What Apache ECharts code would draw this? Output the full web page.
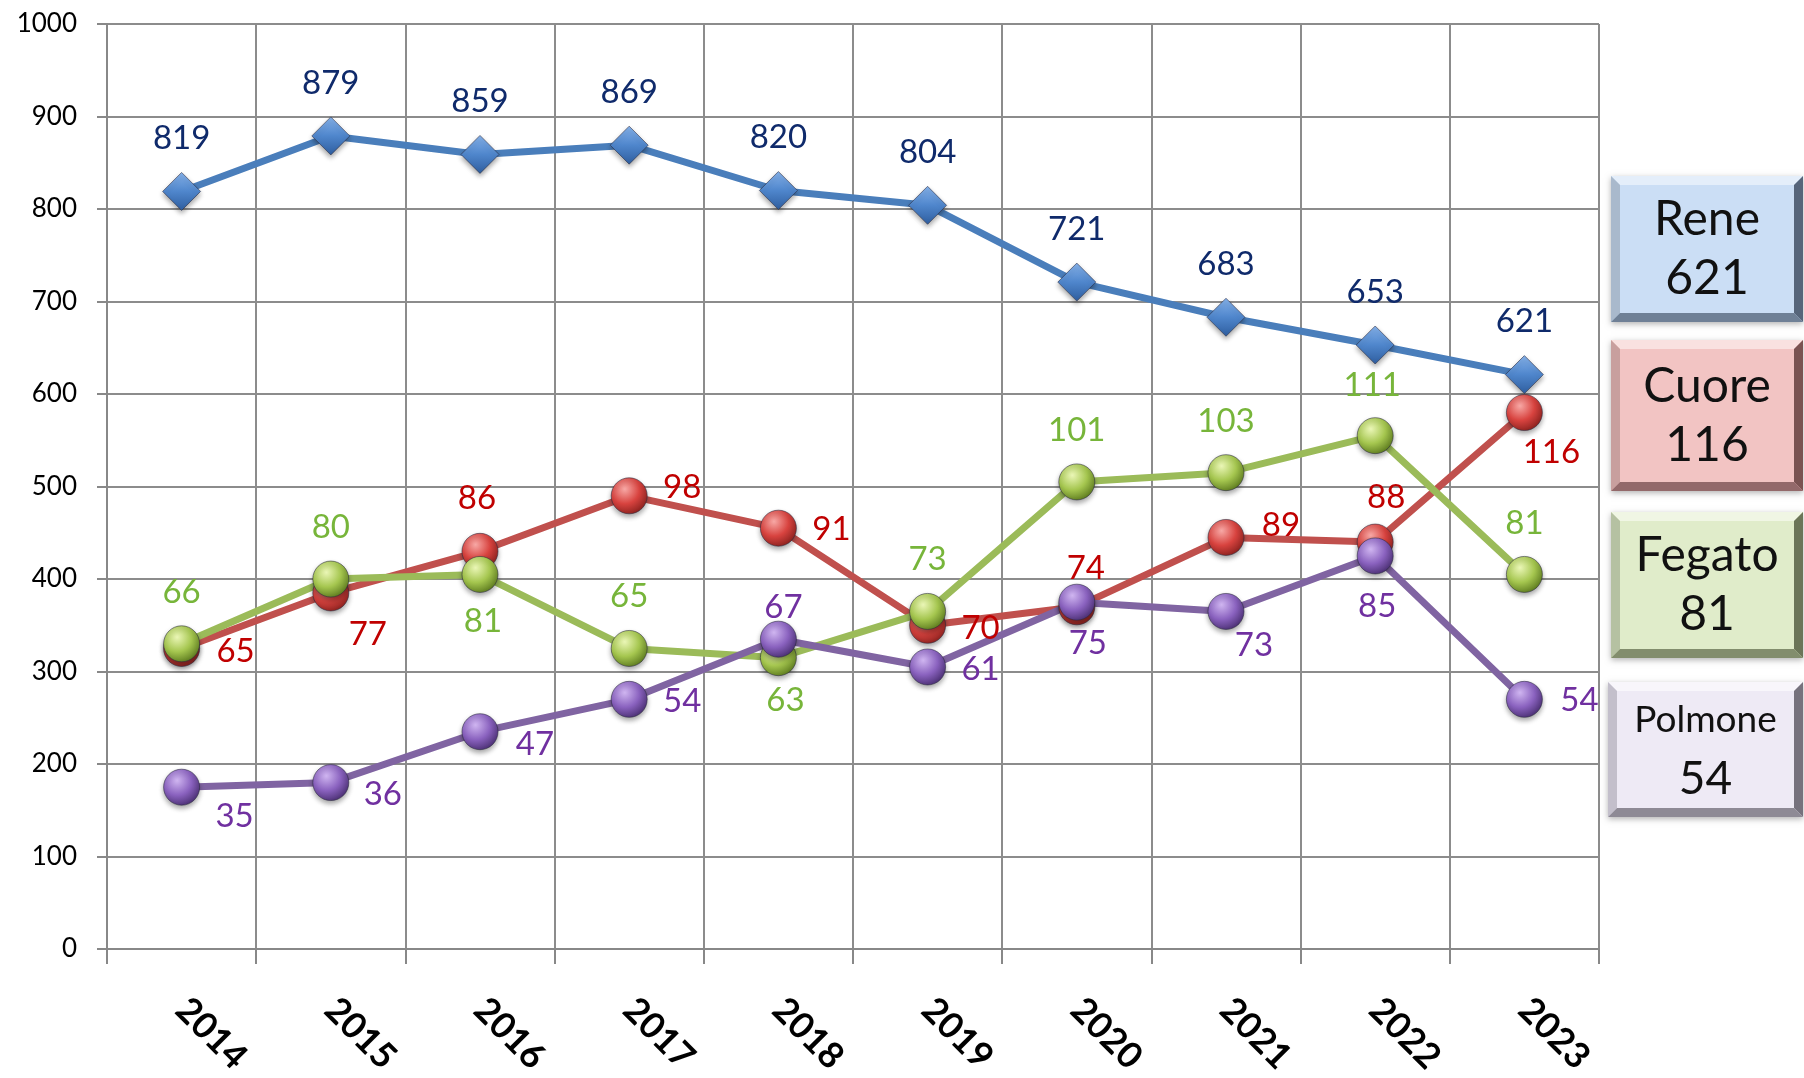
<html>

<head>
    <meta charset="utf-8" />
    <style>
        html, body { margin: 0; padding: 0; background: #fff; }
        .chart { width: 1804px; height: 1078px; }
    </style>
    <script src="https://cdn.jsdelivr.net/npm/echarts@6/dist/echarts.min.js"></script>
</head>

<body>
    <div id='main' class='chart'></div>
    <script type="text/javascript">
        var years = ['2014', '2015', '2016', '2017', '2018', '2019', '2020', '2021', '2022', '2023'];
        var rene = [819, 879, 859, 869, 820, 804, 721, 683, 653, 621];
        var cuore = [65, 77, 86, 98, 91, 70, 74, 89, 88, 116];
        var fegato = [66, 80, 81, 65, 63, 73, 101, 103, 111, 81];
        var polmone = [35, 36, 47, 54, 67, 61, 75, 73, 85, 54];
        var yTicks = [0, 100, 200, 300, 400, 500, 600, 700, 800, 900, 1000];
        /* the three smaller series are drawn 5x taller, labels keep the real value */
        var scale = 5;

        /* label offsets from point centre (layout only) */
        var reneOff = [[0, -53], [0, -53], [0, -53], [0, -53], [0, -53], [0, -53], [0, -53], [0, -53], [0, -53], [0, -53]];
        var cuoreOff = [[54, 3], [37, 41], [-3, -53], [53, -8], [53, 1], [53, 3], [9, -38], [55, -12], [11, -45], [27, 40]];
        var fegatoOff = [[0, -51], [0, -52], [3, 47], [0, -52], [7, 43], [0, -52], [0, -52], [0, -51], [-3, -50], [0, -51]];
        var polmoneOff = [[53, 29], [52, 12], [55, 13], [53, 2], [5, -32], [53, 2], [11, 41], [28, 34], [2, 50], [55, 1]];

        var font = 'Lato, "Liberation Sans", sans-serif';
        var chart = echarts.init(document.getElementById('main'), null, { renderer: 'canvas' });

        function sphere(light, base, dark) {
            return {
                type: 'radial', x: 0.38, y: 0.32, r: 0.72,
                colorStops: [
                    { offset: 0, color: light },
                    { offset: 0.55, color: base },
                    { offset: 1, color: dark }
                ]
            };
        }

        function makeSeries(name, values, mult, off, lineColor, marker, symbol, size, labelColor) {
            return {
                name: name,
                type: 'line',
                data: values.map(function (v, i) {
                    return { value: v * mult, label: { offset: off[i] } };
                }),
                symbol: symbol,
                symbolSize: size,
                showAllSymbol: true,
                lineStyle: { color: lineColor, width: 7 },
                itemStyle: {
                    color: marker,
                    borderColor: 'rgba(40,40,60,0.55)',
                    borderWidth: 1,
                    shadowBlur: 5,
                    shadowColor: 'rgba(0,0,0,0.35)',
                    shadowOffsetY: 3
                },
                label: {
                    show: true,
                    position: 'inside',
                    color: labelColor,
                    fontFamily: font,
                    fontSize: 33,
                    formatter: function (p) { return String(values[p.dataIndex]); }
                },
                emphasis: { disabled: true },
                z: 3
            };
        }

        var series = [
            makeSeries('Rene', rene, 1, reneOff, '#4a7ebb',
                { type: 'linear', x: 0, y: 0, x2: 0, y2: 1, colorStops: [{ offset: 0, color: '#86b2ea' }, { offset: 0.5, color: '#4f86cc' }, { offset: 1, color: '#2e5d9e' }] },
                'diamond', [38, 38], '#0f2a6b'),
            makeSeries('Cuore', cuore, scale, cuoreOff, '#c0504d', sphere('#f7a8a5', '#d8433f', '#8a211e'), 'circle', 36, '#c00000'),
            makeSeries('Fegato', fegato, scale, fegatoOff, '#9bbb59', sphere('#eaf6b6', '#a5c64f', '#5c7a1e'), 'circle', 36, '#77b53a'),
            makeSeries('Polmone', polmone, scale, polmoneOff, '#8064a2', sphere('#cfb5f0', '#8a62bf', '#4a2f72'), 'circle', 36, '#7030a0')
        ];

        /* bevelled boxes on the right, built from names and last values */
        var boxes = [
            { name: 'Rene', data: rene, x: 1611, y: 176, h: 146, fs: 48, fs2: 48, c: ['#cbdef5', '#e4eefa', '#a9b9cc', '#56657a', '#6f8096'] },
            { name: 'Cuore', data: cuore, x: 1611, y: 340, h: 151, fs: 48, fs2: 48, c: ['#f2c4c3', '#f9e1e0', '#c89f9e', '#7a5352', '#93696a'] },
            { name: 'Fegato', data: fegato, x: 1611, y: 512, h: 146, fs: 48, fs2: 48, c: ['#e0ecca', '#f0f6e4', '#b5c1a2', '#6b7558', '#828d6d'] },
            { name: 'Polmone', data: polmone, x: 1608, y: 682, h: 135, fs: 37, fs2: 46, c: ['#eeeaf5', '#f8f6fb', '#c3bfcb', '#76727d', '#8e8a95'] }
        ];
        var graphics = [];
        boxes.forEach(function (b) {
            var x = b.x, y = b.y, w = 1803 - b.x, h = b.h, e = 9;
            graphics.push({ type: 'rect', shape: { x: x, y: y, width: w, height: h }, style: { fill: b.c[0], shadowBlur: 6, shadowColor: 'rgba(0,0,0,0.3)', shadowOffsetY: 2 }, z: 10 });
            graphics.push({ type: 'polygon', shape: { points: [[x, y], [x + w, y], [x + w - e, y + e], [x + e, y + e]] }, style: { fill: b.c[1] }, z: 11 });
            graphics.push({ type: 'polygon', shape: { points: [[x, y], [x + e, y + e], [x + e, y + h - e], [x, y + h]] }, style: { fill: b.c[2] }, z: 11 });
            graphics.push({ type: 'polygon', shape: { points: [[x + w, y], [x + w, y + h], [x + w - e, y + h - e], [x + w - e, y + e]] }, style: { fill: b.c[3] }, z: 11 });
            graphics.push({ type: 'polygon', shape: { points: [[x, y + h], [x + e, y + h - e], [x + w - e, y + h - e], [x + w, y + h]] }, style: { fill: b.c[4] }, z: 11 });
            var cx = x + w / 2, cy = y + h / 2;
            graphics.push({ type: 'text', x: cx, y: cy - 29, style: { text: b.name, fill: '#111', fontSize: b.fs, fontFamily: font, align: 'center', verticalAlign: 'middle', textAlign: 'center', textVerticalAlign: 'middle' }, z: 12 });
            graphics.push({ type: 'text', x: cx, y: cy + 30, style: { text: String(b.data[b.data.length - 1]), fill: '#111', fontSize: b.fs2, fontFamily: font, align: 'center', verticalAlign: 'middle', textAlign: 'center', textVerticalAlign: 'middle' }, z: 12 });
        });

        var option = {
            backgroundColor: '#fff',
            animation: false,
            grid: { left: 107, right: 205, top: 24, bottom: 127, containLabel: false },
            xAxis: {
                type: 'category',
                data: years,
                boundaryGap: true,
                axisLine: { show: true, lineStyle: { color: '#888', width: 2 } },
                axisTick: { show: true, interval: 0, length: 15, lineStyle: { color: '#888', width: 2 } },
                splitLine: { show: true, interval: 0, lineStyle: { color: '#8c8c8c', width: 2 } },
                axisLabel: {
                    interval: 0, rotate: -45, margin: 55,
                    color: '#000', fontFamily: font, fontWeight: 'bold', fontSize: 36
                }
            },
            yAxis: {
                type: 'value',
                min: yTicks[0], max: yTicks[yTicks.length - 1], interval: 100,
                axisLine: { show: true, lineStyle: { color: '#888', width: 2 } },
                axisTick: { show: true, length: 10, lineStyle: { color: '#888', width: 2 } },
                splitLine: { show: true, lineStyle: { color: '#8c8c8c', width: 2 } },
                axisLabel: {
                    margin: 30, color: '#000', fontFamily: font, fontSize: 26,
                    formatter: function (v) { return String(v); }
                }
            },
            graphic: graphics,
            series: series
        };
        chart.setOption(option);
    </script>
</body>

</html>
